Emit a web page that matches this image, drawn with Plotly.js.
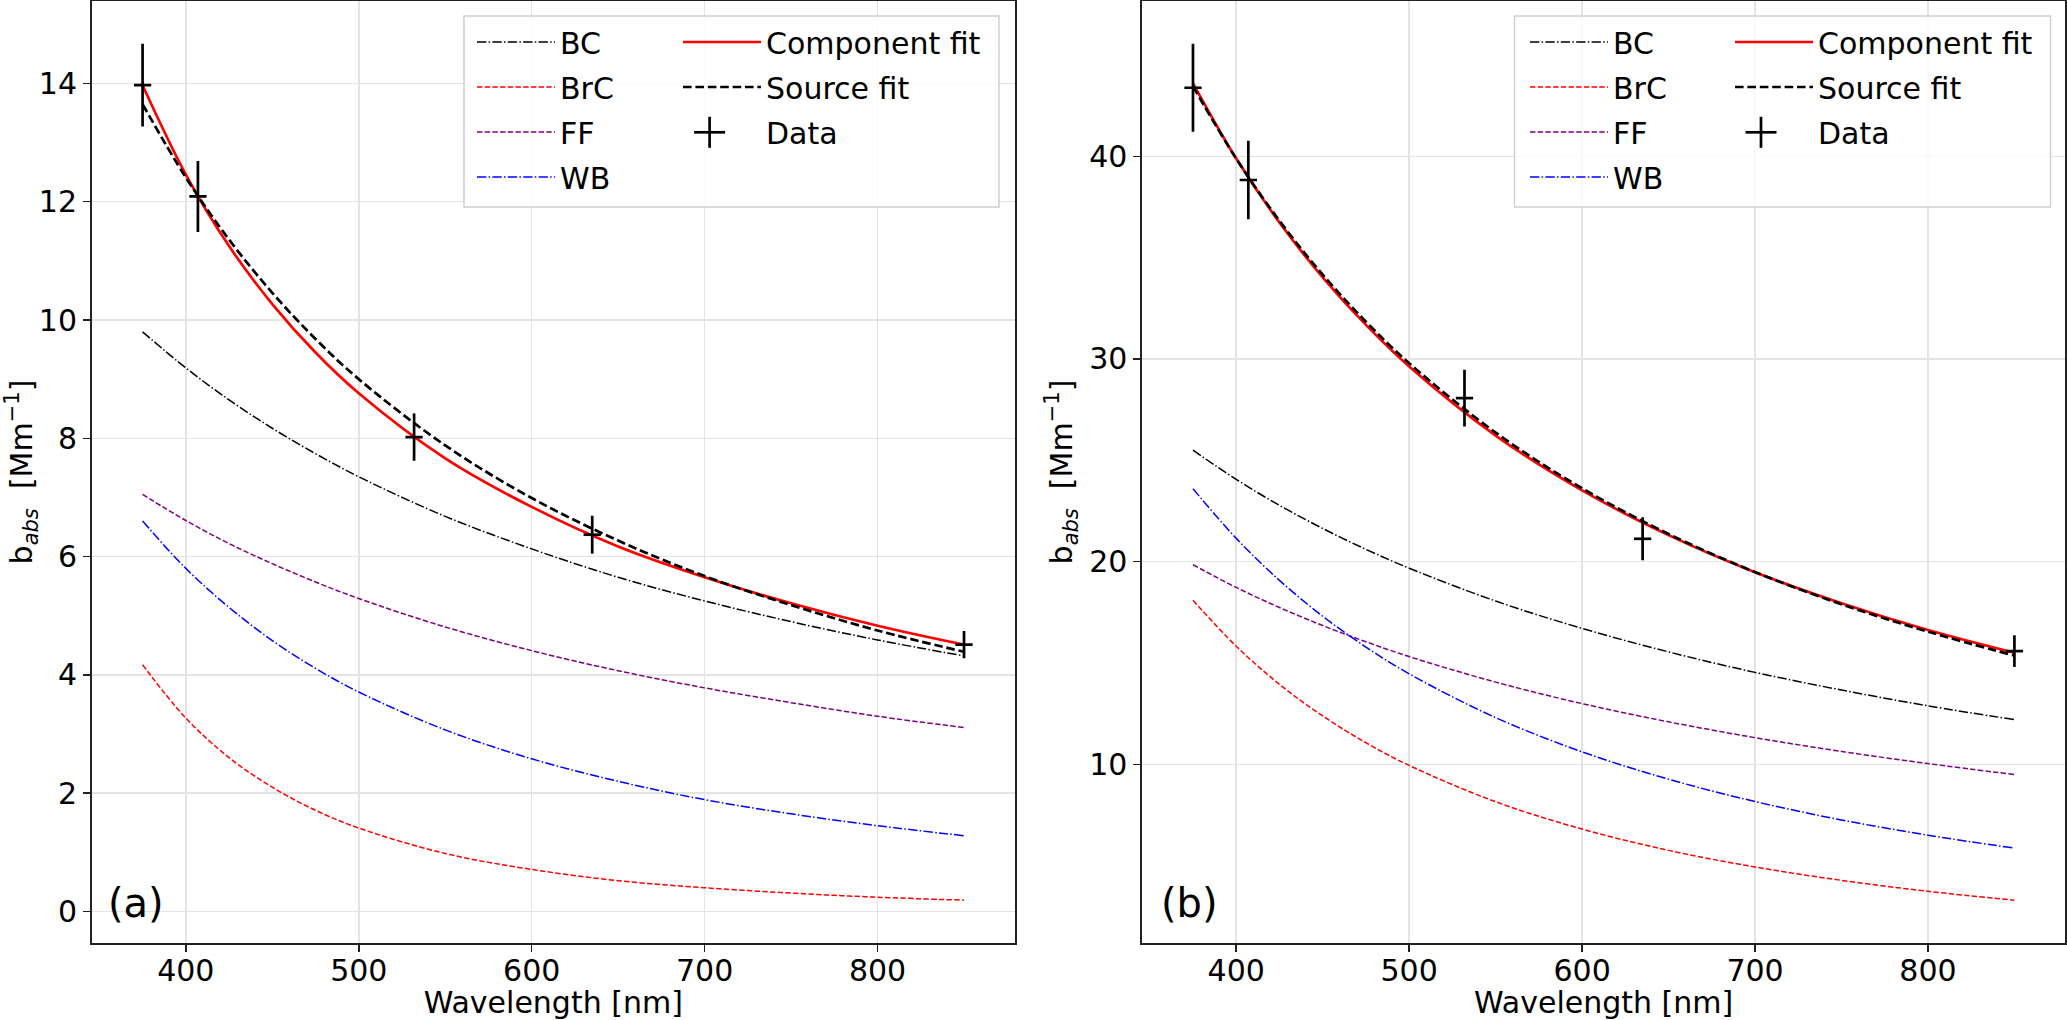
<!DOCTYPE html>
<html>
<head>
<meta charset="utf-8">
<script src="https://cdn.plot.ly/plotly-3.0.1.min.js"></script>
<style>
  html, body { margin: 0; padding: 0; background: #fff; }
  #plot { width: 2067px; height: 1020px; }
</style>
</head>
<body>
<div id="plot"></div>
<script>
const wl = [375, 400, 425, 450, 475, 500, 550, 600, 650, 700, 750, 800, 850];

// panel (a)
const bcA   = [9.80, 9.19, 8.65, 8.17, 7.74, 7.35, 6.68, 6.13, 5.65, 5.25, 4.90, 4.59, 4.32];
const brcA  = [4.17, 3.27, 2.60, 2.10, 1.71, 1.41, 0.98, 0.71, 0.52, 0.40, 0.31, 0.24, 0.19];
const ffA   = [7.05, 6.61, 6.22, 5.88, 5.57, 5.29, 4.81, 4.41, 4.07, 3.78, 3.53, 3.30, 3.11];
const wbA   = [6.60, 5.80, 5.14, 4.58, 4.11, 3.71, 3.07, 2.58, 2.20, 1.89, 1.65, 1.45, 1.28];
const compA = [13.97, 12.46, 11.25, 10.27, 9.45, 8.76, 7.66, 6.84, 6.17, 5.65, 5.21, 4.83, 4.51];
const srcA  = [13.65, 12.41, 11.36, 10.46, 9.68, 9.00, 7.88, 6.99, 6.27, 5.67, 5.18, 4.75, 4.39];

// panel (b)
const bcB   = [25.50, 24.06, 22.78, 21.64, 20.61, 19.68, 18.06, 16.71, 15.55, 14.54, 13.67, 12.89, 12.21];
const brcB  = [18.10, 15.83, 13.95, 12.39, 11.07, 9.95, 8.16, 6.81, 5.76, 4.94, 4.28, 3.74, 3.30];
const ffB   = [19.85, 18.73, 17.74, 16.85, 16.05, 15.32, 14.06, 13.00, 12.10, 11.32, 10.64, 10.04, 9.50];
const wbB   = [23.60, 21.15, 19.08, 17.31, 15.79, 14.47, 12.31, 10.62, 9.27, 8.17, 7.26, 6.51, 5.87];
const compB = [43.60, 39.89, 36.73, 34.03, 31.68, 29.63, 26.22, 23.52, 21.31, 19.48, 17.95, 16.63, 15.51];
const srcB  = [43.45, 39.88, 36.82, 34.16, 31.84, 29.79, 26.37, 23.62, 21.37, 19.49, 17.90, 16.55, 15.37];

// measurements
const dataWl = [375, 407, 532, 635, 850];
const wlErr  = 5;
const dataA  = [13.97, 12.09, 8.02, 6.37, 4.51];
const errA   = [0.70, 0.60, 0.40, 0.32, 0.23];
const dataB  = [43.38, 38.83, 28.07, 21.13, 15.59];
const errB   = [2.17, 1.94, 1.40, 1.06, 0.78];

const FONT = 'DejaVu Sans';

function curve(y, name, color, width, dash, xa, ya, leg) {
    return {
        x: wl, y: y, name: name, type: 'scatter', mode: 'lines',
        line: {color: color, width: width, dash: dash, shape: 'spline'},
        xaxis: xa, yaxis: ya, legend: leg, legendgroup: leg + name
    };
}

// data are drawn as error crosses only (no marker), like the reference
function points(y, err, xa, ya, leg) {
    return {
        x: dataWl, y: y, name: 'Data', type: 'scatter', mode: 'markers',
        marker: {symbol: 'cross-thin-open', size: 16, color: 'rgba(0,0,0,0)', line: {width: 0}},
        error_y: {type: 'data', array: err, visible: true, color: '#000', thickness: 2.7, width: 0},
        error_x: {type: 'constant', value: wlErr, visible: true, color: '#000', thickness: 2.7, width: 0},
        xaxis: xa, yaxis: ya, legend: leg, legendgroup: leg + 'Data'
    };
}

const dashDot  = '9.3px,2.3px,1.5px,2.3px';
const dashThin = '5.4px,2.3px';
const dashFit  = '8.6px,3.8px';

const traces = [
    curve(bcA,  'BC',  '#000000', 1.5, dashDot,  'x', 'y', 'legend'),
    curve(brcA, 'BrC', '#ff0000', 1.5, dashThin, 'x', 'y', 'legend'),
    curve(ffA,  'FF',  '#800080', 1.5, dashThin, 'x', 'y', 'legend'),
    curve(wbA,  'WB',  '#0000ff', 1.5, dashDot,  'x', 'y', 'legend'),
    curve(compA, 'Component fit', '#ff0000', 2.7, 'solid', 'x', 'y', 'legend2'),
    curve(srcA,  'Source fit',    '#000000', 2.7, dashFit, 'x', 'y', 'legend2'),
    points(dataA, errA, 'x', 'y', 'legend2'),

    curve(bcB,  'BC',  '#000000', 1.5, dashDot,  'x2', 'y2', 'legend3'),
    curve(brcB, 'BrC', '#ff0000', 1.5, dashThin, 'x2', 'y2', 'legend3'),
    curve(ffB,  'FF',  '#800080', 1.5, dashThin, 'x2', 'y2', 'legend3'),
    curve(wbB,  'WB',  '#0000ff', 1.5, dashDot,  'x2', 'y2', 'legend3'),
    curve(compB, 'Component fit', '#ff0000', 2.7, 'solid', 'x2', 'y2', 'legend4'),
    curve(srcB,  'Source fit',    '#000000', 2.7, dashFit, 'x2', 'y2', 'legend4'),
    points(dataB, errB, 'x2', 'y2', 'legend4')
];

const W = 2067, H = 1020;
const mL = 92, mR = 2, mT = 1, mB = 77;
const pw = W - mL - mR, ph = H - mT - mB;
const px = v => (v - mL) / pw;        // pixel -> paper x
const py = v => (H - mB - v) / ph;    // pixel -> paper y

const xBase = {
    range: [345.75, 879.25], dtick: 100, tick0: 400,
    showgrid: true, gridcolor: '#e4e4e4', gridwidth: 1.5,
    showline: true, mirror: true, linecolor: '#222', linewidth: 2,
    ticks: 'outside', ticklen: 7, tickwidth: 1.5, tickcolor: '#222',
    ticklabelstandoff: -7,
    tickfont: {family: FONT, size: 30, color: '#000'},
    title: {text: 'Wavelength [nm]', font: {family: FONT, size: 30, color: '#000'}, standoff: 21},
    zeroline: false
};
const yTitle = 'b<i><sub>abs</sub></i>\u00a0\u00a0[Mm<sup>\u22121</sup>]';
const yBase = {
    showgrid: true, gridcolor: '#e4e4e4', gridwidth: 1.5,
    showline: true, mirror: true, linecolor: '#222', linewidth: 2,
    ticks: 'outside', ticklen: 7, tickwidth: 1.5, tickcolor: '#222',
    tickfont: {family: FONT, size: 30, color: '#000'},
    title: {text: yTitle, font: {family: FONT, size: 30, color: '#000'}, standoff: 8},
    zeroline: false
};

const ITEMW = 78;

function legendAt(xpix, ypix) {
    return {
        x: px(xpix), y: py(ypix), xanchor: 'left', yanchor: 'top',
        bgcolor: 'rgba(0,0,0,0)', borderwidth: 0,
        font: {family: FONT, size: 30, color: '#000'},
        itemwidth: ITEMW, tracegroupgap: 3, traceorder: 'grouped'
    };
}

function legendBox(x0, x1) {
    return {
        type: 'rect', xref: 'paper', yref: 'paper', layer: 'above',
        x0: px(x0), x1: px(x1), y0: py(207), y1: py(16),
        fillcolor: 'rgba(255,255,255,0.8)', line: {color: '#d0d0d0', width: 1.5}
    };
}

// "+" glyph for the Data legend entry (errorbar handle)
function legendCross(cx, cy) {
    const half = 15.5;
    const seg = (x0, y0, x1, y1) => ({
        type: 'line', xref: 'paper', yref: 'paper', layer: 'above',
        x0: px(x0), y0: py(y0), x1: px(x1), y1: py(y1),
        line: {color: '#000', width: 2.7}
    });
    return [seg(cx - half, cy, cx + half, cy), seg(cx, cy - half, cx, cy + half)];
}

const layout = {
    width: W, height: H,
    margin: {l: mL, r: mR, t: mT, b: mB},
    paper_bgcolor: '#fff', plot_bgcolor: '#fff',
    font: {family: FONT, color: '#000'},
    xaxis:  Object.assign({}, xBase, {domain: [0, px(1014.6)], anchor: 'y'}),
    xaxis2: Object.assign({}, xBase, {domain: [px(1142.4), 1], anchor: 'y2'}),
    yaxis:  Object.assign({}, yBase, {domain: [0, 1], range: [-0.534, 15.394], dtick: 2, anchor: 'x'}),
    yaxis2: Object.assign({}, yBase, {domain: [0, 1], range: [1.19, 47.66], dtick: 10, anchor: 'x2'}),
    legend:  legendAt(472, 16),
    legend2: legendAt(678, 16),
    legend3: legendAt(1525, 16),
    legend4: legendAt(1730, 16),
    shapes: [legendBox(464, 999), legendBox(1514.5, 2050.5)]
        .concat(legendCross(709.6, 132.3), legendCross(1761, 132.3)),
    annotations: [
        {text: '(a)', xref: 'x domain', yref: 'y domain', x: 0.015, y: 0.016,
         xanchor: 'left', yanchor: 'bottom', showarrow: false,
         font: {family: FONT, size: 40, color: '#000'}},
        {text: '(b)', xref: 'x2 domain', yref: 'y2 domain', x: 0.018, y: 0.016,
         xanchor: 'left', yanchor: 'bottom', showarrow: false,
         font: {family: FONT, size: 40, color: '#000'}}
    ]
};

Plotly.newPlot('plot', traces, layout, {staticPlot: true});
</script>
</body>
</html>
